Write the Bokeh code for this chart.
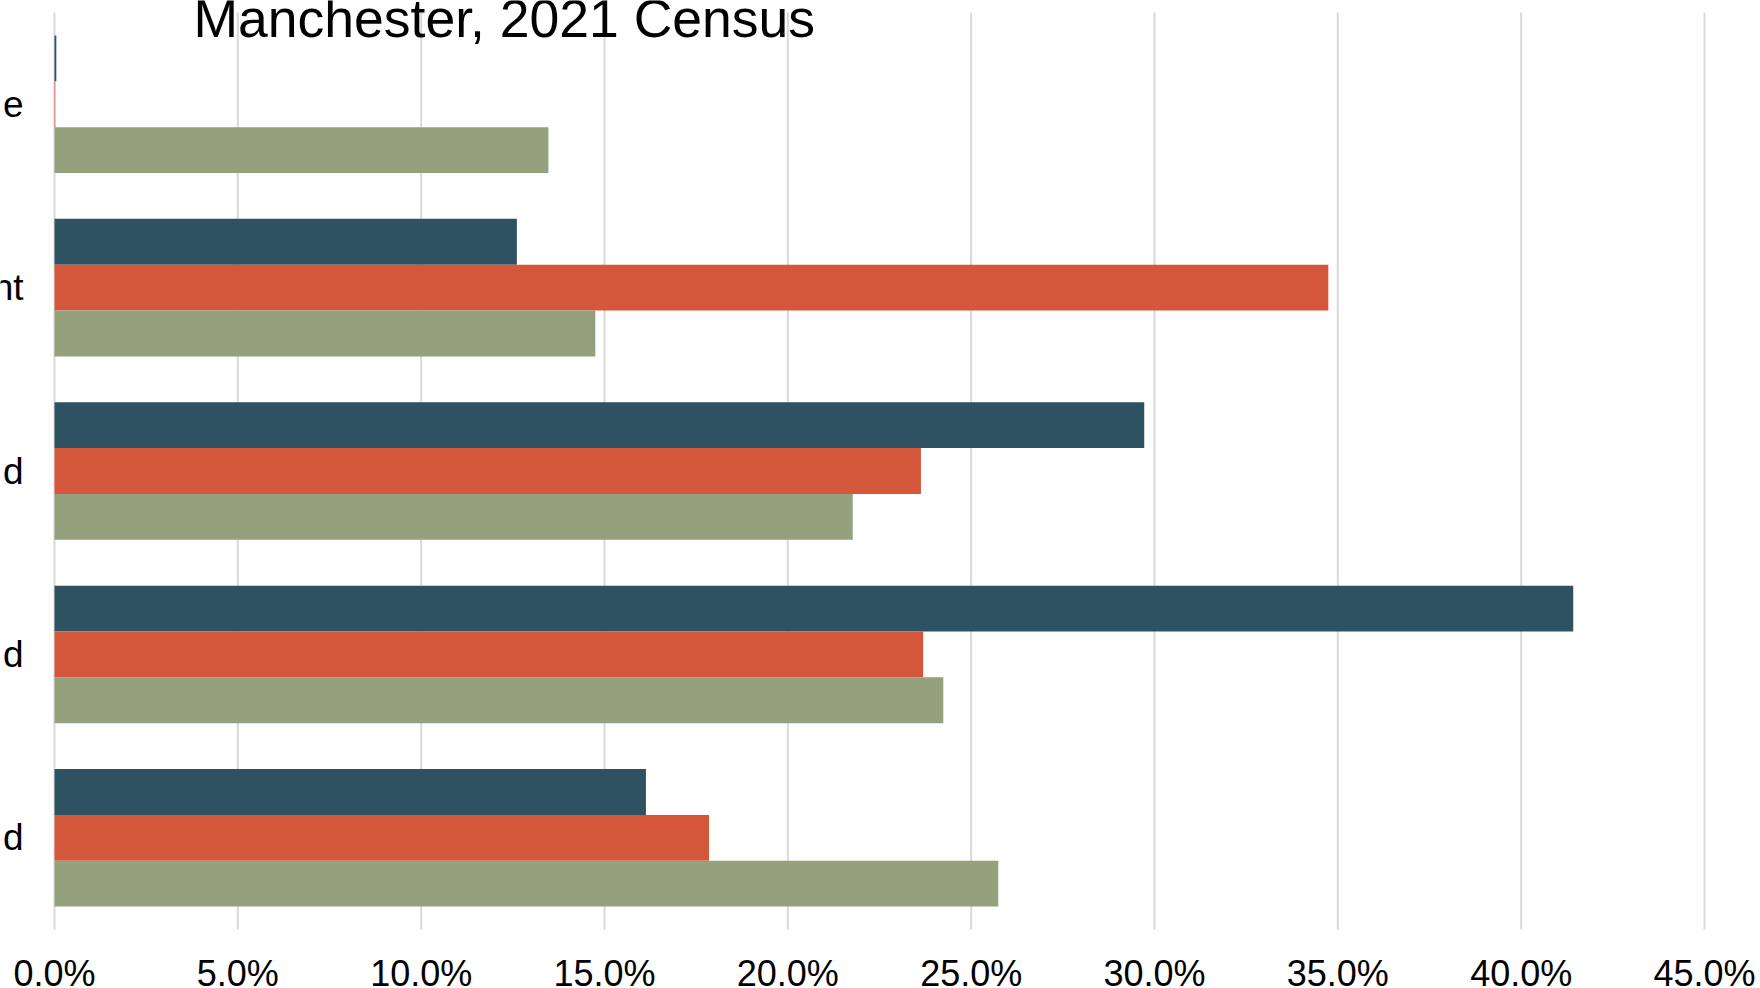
from bokeh.plotting import figure
from bokeh.models import Range1d, ColumnDataSource, Label
from bokeh.transform import dodge
from bokeh.embed import file_html
from bokeh.resources import INLINE

# ---- data ----
title_text = "Manchester, 2021 Census"
# category labels, top to bottom (the reference shows only their cut-off endings)
categories = ["e", "nt", "d", "d", "d"]
series_names = ["Series 1", "Series 2", "Series 3"]
series_1 = [0.0005, 0.1261, 0.2972, 0.4142, 0.1613]
series_2 = [0.0002, 0.3474, 0.2363, 0.2369, 0.1785]
series_3 = [0.1347, 0.1475, 0.2177, 0.2424, 0.2574]
x_ticks = [0.0, 0.05, 0.10, 0.15, 0.20, 0.25, 0.30, 0.35, 0.40, 0.45]
x_tick_labels = ["0.0%", "5.0%", "10.0%", "15.0%", "20.0%", "25.0%",
                 "30.0%", "35.0%", "40.0%", "45.0%"]

colors = ["#2E5262", "#D5573B", "#95A07C"]
FONT = "Liberation Sans"

# ---- layout (pixels on the 1760x988 canvas) ----
W, H = 1760, 988
PLOT_L, PLOT_R, PLOT_T, PLOT_B = 54, 1704, 12, 929

n = len(categories)
ypos = [n - i - 0.5 for i in range(n)]

x0, x1 = x_ticks[0], x_ticks[-1]
xs = (x1 - x0) / (PLOT_R - PLOT_L)          # data units per pixel (x)
ys = n / (PLOT_B - PLOT_T)                  # data units per pixel (y)
x_range = Range1d(x0 - PLOT_L * xs, x1 + (W - PLOT_R) * xs)
y_range = Range1d(0 - (H - PLOT_B) * ys, n + PLOT_T * ys)

source = ColumnDataSource(dict(y=ypos, cat=categories, s1=series_1, s2=series_2, s3=series_3))

p = figure(width=W, height=H, x_range=x_range, y_range=y_range,
           output_backend="svg", toolbar_location=None,
           min_border_left=0, min_border_right=0, min_border_top=0, min_border_bottom=0)
p.styles = {"position": "absolute", "left": "0px", "top": "0px"}
p.outline_line_color = None
p.background_fill_color = "white"
p.border_fill_color = "white"
p.xaxis.visible = False
p.yaxis.visible = False
p.xgrid.visible = False
p.ygrid.visible = False

# vertical gridlines over the plot area
p.segment(x0=x_ticks, y0=[0] * len(x_ticks), x1=x_ticks, y1=[n] * len(x_ticks),
          line_color="#D9D9D9", line_width=2)

bar_h = 0.25
for key, off, col, name in zip(["s1", "s2", "s3"], [bar_h, 0.0, -bar_h], colors, series_names):
    p.hbar(y=dodge("y", off), left=0, right=key, height=bar_h, source=source,
           fill_color=col, line_color=None, name=name)

# x tick labels under the plot area
for t, lab in zip(x_ticks, x_tick_labels):
    p.add_layout(Label(x=t, y=0, y_offset=-43.5, text=lab, text_align="center",
                       text_baseline="middle", text_font=FONT, text_font_size="36px",
                       text_color="black"))

# category labels
for cat, yy in zip(categories, ypos):
    p.add_layout(Label(x=0, y=yy, text=cat, x_offset=-31,
                       text_align="right", text_baseline="middle",
                       text_font=FONT, text_font_size="37px", text_color="black"))

p.add_layout(Label(x=0, y=n, x_offset=139, y_offset=-5.5, text=title_text, text_font=FONT,
                   text_font_size="53.5px", text_color="black",
                   text_align="left", text_baseline="middle"))

open("out.html", "w").write(file_html(p, INLINE))
